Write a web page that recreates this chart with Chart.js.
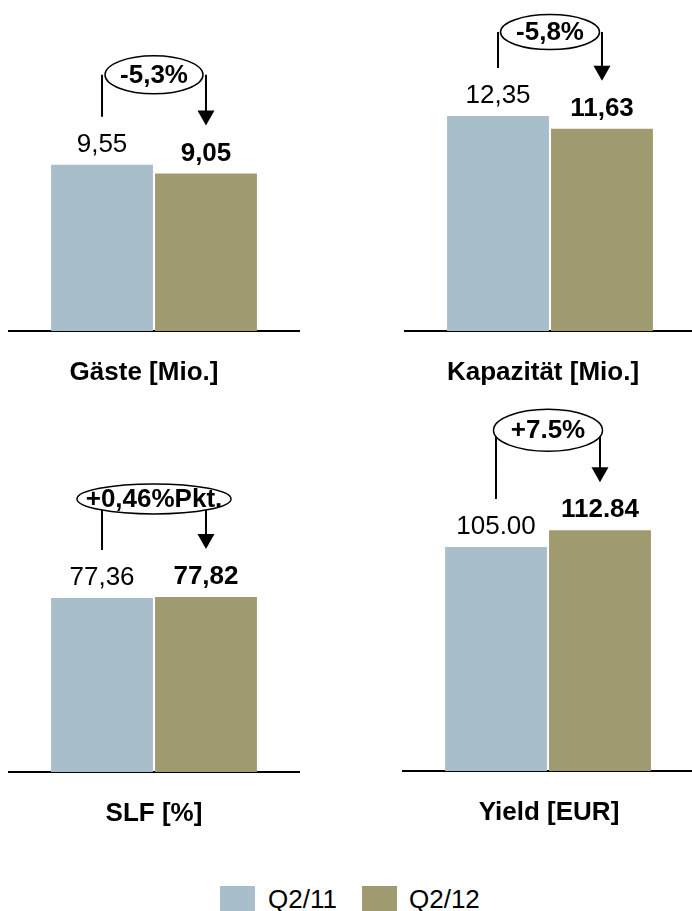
<!DOCTYPE html>
<html>
<head>
<meta charset="utf-8">
<script src="https://cdn.jsdelivr.net/npm/chart.js@4/dist/chart.umd.min.js"></script>
<style>
  body { margin: 0; width: 692px; height: 911px; overflow: hidden; background: #fff; position: relative;
         font-family: "Liberation Sans", Arial, sans-serif; }
  canvas { position: absolute; }
  .key { position: absolute; width: 35px; height: 35px; }
  .keytext { position: absolute; font-size: 26px; line-height: 30px; color: #000; white-space: nowrap; }
</style>
</head>
<body>
<script>
const FONT = '"Liberation Sans", Arial, sans-serif'

// data
const panels = ['Gäste [Mio.]', 'Kapazität [Mio.]', 'SLF [%]', 'Yield [EUR]']
const series = ['Q2/11', 'Q2/12']
const q211 = [9.55, 12.35, 77.36, 105.00]
const q212 = [9.05, 11.63, 77.82, 112.84]
const changes = ['-5,3%', '-5,8%', '+0,46%Pkt.', '+7.5%']
const decimalSep = [',', ',', ',', '.']
const axisMax = [15, 15, 120, 120]

const colors = ['#A8BFCB', '#9F9A70']

// where each little chart sits on the page
const boxes = [
  { left: 0,   top: 0,   width: 346, height: 391, pad: { left: 9,  right: 47, top: 70 },  lift: 68, rx: 49,   ry: 19,   nudge: -10 },
  { left: 346, top: 0,   width: 349, height: 391, pad: { left: 59, right: 0,  top: 70 },  lift: 62, rx: 49.5, ry: 17.5, nudge: -7 },
  { left: 0,   top: 400, width: 346, height: 432, pad: { left: 9,  right: 47, top: 102 }, lift: 76, rx: 77,   ry: 15,   nudge: 0 },
  { left: 346, top: 400, width: 349, height: 431, pad: { left: 57, right: 2,  top: 115 }, lift: 78, rx: 54.5, ry: 21,   nudge: 1 }
]

function fmt(v, sep) {
  return v.toFixed(2).replace('.', sep)
}

// value labels, the change bubble and the bracket arrow between the two bars
const annotate = {
  id: 'annotate',
  afterDatasetsDraw(chart, args, opts) {
    const ctx = chart.ctx
    const a = chart.getDatasetMeta(0).data[0]
    const b = chart.getDatasetMeta(1).data[0]
    ctx.save()
    ctx.fillStyle = '#000'
    ctx.textAlign = 'center'
    ctx.textBaseline = 'alphabetic'
    ctx.font = '26px ' + FONT
    ctx.fillText(opts.labels[0], a.x, a.y - 13)
    ctx.font = 'bold 26px ' + FONT
    ctx.fillText(opts.labels[1], b.x, b.y - 13)

    const midA = a.y - 22
    const midB = b.y - 22
    const cy = Math.min(midA, midB) - opts.lift
    const cx = (a.x + b.x) / 2
    const tip = midB - 26

    ctx.strokeStyle = '#000'
    ctx.lineWidth = 2
    ctx.beginPath()
    ctx.moveTo(a.x, cy)
    ctx.lineTo(a.x, midA - 26)
    ctx.moveTo(b.x, cy)
    ctx.lineTo(b.x, tip - 14)
    ctx.stroke()
    ctx.beginPath()
    ctx.moveTo(b.x - 8.5, tip - 15)
    ctx.lineTo(b.x + 8.5, tip - 15)
    ctx.lineTo(b.x, tip)
    ctx.closePath()
    ctx.fill()

    ctx.beginPath()
    ctx.ellipse(cx, cy, opts.rx, opts.ry, 0, 0, Math.PI * 2)
    ctx.fillStyle = '#fff'
    ctx.fill()
    ctx.lineWidth = 1.5
    ctx.stroke()
    ctx.fillStyle = '#000'
    ctx.font = 'bold 26px ' + FONT
    ctx.textBaseline = 'middle'
    ctx.fillText(opts.change, cx, cy + 1)
    ctx.restore()
  }
}

panels.forEach((name, i) => {
  const box = boxes[i]
  const canvas = document.createElement('canvas')
  canvas.width = box.width
  canvas.height = box.height
  canvas.style.left = box.left + 'px'
  canvas.style.top = box.top + 'px'
  document.body.appendChild(canvas)

  new Chart(canvas, {
    type: 'bar',
    data: {
      labels: [name],
      datasets: [
        { label: series[0], data: [q211[i]], backgroundColor: colors[0] },
        { label: series[1], data: [q212[i]], backgroundColor: colors[1] }
      ]
    },
    options: {
      responsive: false,
      animation: false,
      categoryPercentage: 0.717,
      barPercentage: 0.98,
      layout: { padding: { left: box.pad.left, right: box.pad.right, top: box.pad.top, bottom: 0 } },
      plugins: {
        legend: { display: false },
        tooltip: { enabled: false },
        annotate: {
          labels: [fmt(q211[i], decimalSep[i]), fmt(q212[i], decimalSep[i])],
          change: changes[i],
          lift: box.lift,
          rx: box.rx,
          ry: box.ry
        }
      },
      scales: {
        x: {
          grid: { display: false, drawTicks: false },
          border: { display: true, color: '#000', width: 2 },
          ticks: {
            color: '#000',
            padding: 26,
            labelOffset: box.nudge,
            font: { family: FONT, size: 26, weight: 'bold' }
          },
          afterFit(scale) { scale.height = 60 }
        },
        y: { display: false, min: 0, max: axisMax[i] }
      }
    },
    plugins: [annotate]
  })
})

// legend row along the bottom edge
const keyLeft = [220, 362]
const textLeft = [268, 409]
series.forEach((s, i) => {
  const key = document.createElement('div')
  key.className = 'key'
  key.style.left = keyLeft[i] + 'px'
  key.style.top = '886px'
  key.style.background = colors[i]
  document.body.appendChild(key)
  const t = document.createElement('div')
  t.className = 'keytext'
  t.style.left = textLeft[i] + 'px'
  t.style.top = '884px'
  t.textContent = s
  document.body.appendChild(t)
})
</script>
</body>
</html>
